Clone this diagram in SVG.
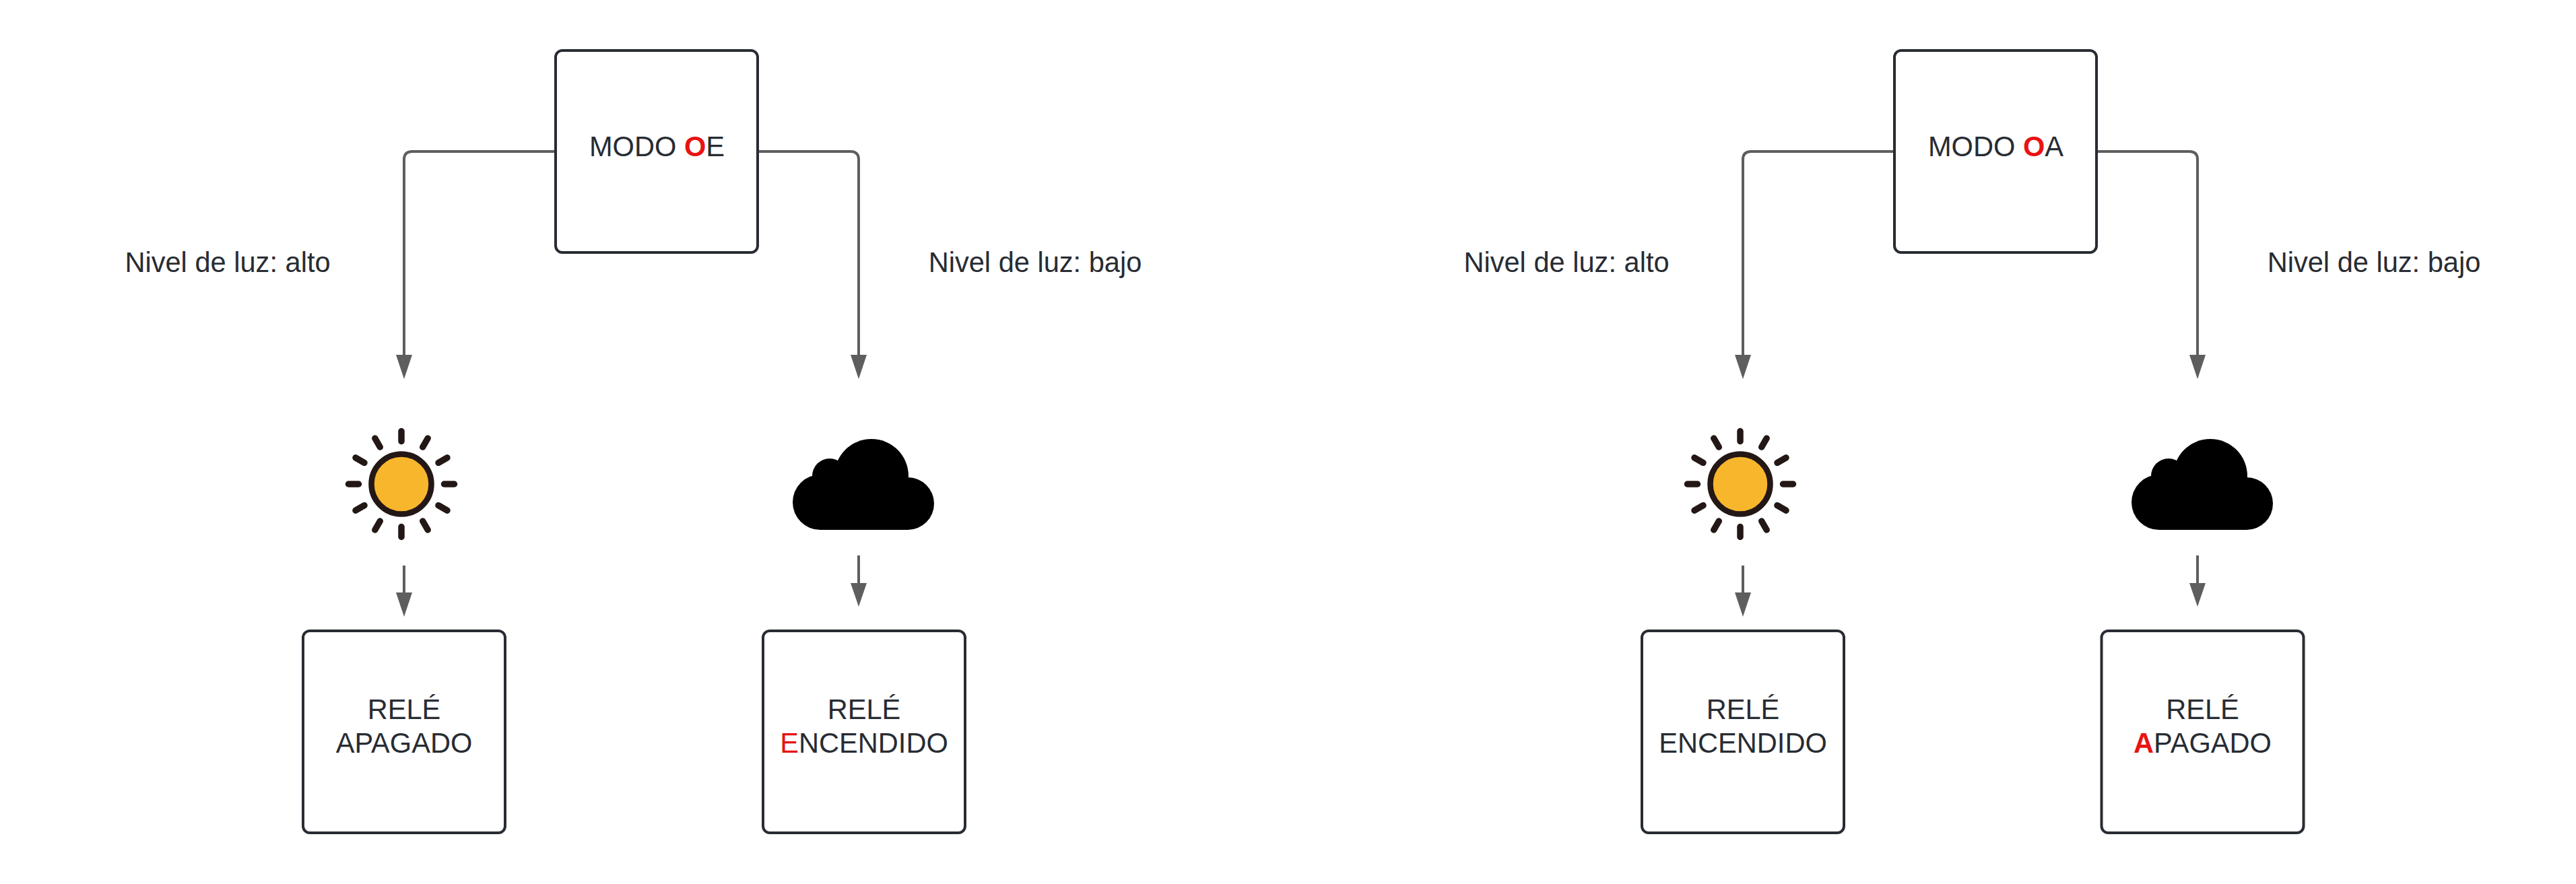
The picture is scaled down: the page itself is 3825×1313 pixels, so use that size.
<svg xmlns="http://www.w3.org/2000/svg" width="3825" height="1313" viewBox="0 0 3825 1313">
<style>
.box{fill:#fff;stroke:#282c33;stroke-width:4}
.t{font-family:"Liberation Sans",Arial,sans-serif;font-size:41.6px;fill:#282c33;text-anchor:middle}
.r{fill:#e81313}
.b{font-weight:bold}
.c{fill:none;stroke:#5e5e5e;stroke-width:4}
.ray{stroke:#231815;stroke-width:9.5;stroke-linecap:round}
</style>
<defs>
<g id="sun">
<circle cx="0" cy="0" r="44.5" fill="#f8b62d" stroke="#231815" stroke-width="8.5"/>
<g class="ray">
<path d="M0 -63.5V-78.5"/><path d="M0 63.5V78.5"/><path d="M63.5 0H78.5"/><path d="M-63.5 0H-78.5"/>
<path d="M31.7 -55L39.2 -68"/><path d="M-31.7 -55L-39.2 -68"/><path d="M31.7 55L39.2 68"/><path d="M-31.7 55L-39.2 68"/>
<path d="M55 -31.7L68 -39.2"/><path d="M-55 -31.7L-68 -39.2"/><path d="M55 31.7L68 39.2"/><path d="M-55 31.7L-68 39.2"/>
</g>
</g>
<g id="cloud" fill="#000">
<circle cx="1218" cy="746" r="41"/><circle cx="1348" cy="748" r="39"/><circle cx="1294" cy="707" r="55"/><circle cx="1232" cy="707" r="26"/>
<rect x="1218" y="705" width="130" height="82"/>
</g>
</defs>
<rect width="3825" height="1313" fill="#fff"/>
<g id="connectors">
<g id="connectors-left">
<path class="c" d="M825 225H612Q600 225 600 237V528"/>
<path class="c" d="M1125 225H1263Q1275 225 1275 237V528"/>
<path class="c" d="M600 840V880"/>
<path class="c" d="M1275 825V866"/>
<path d="M588 527H612L600 563Z M1263 527H1287L1275 563Z M588 880H612L600 916Z M1263 866H1287L1275 901Z" fill="#5e5e5e"/>
</g>
<g id="connectors-right" transform="translate(1988 0)">
<path class="c" d="M825 225H612Q600 225 600 237V528"/>
<path class="c" d="M1125 225H1263Q1275 225 1275 237V528"/>
<path class="c" d="M600 840V880"/>
<path class="c" d="M1275 825V866"/>
<path d="M588 527H612L600 563Z M1263 527H1287L1275 563Z M588 880H612L600 916Z M1263 866H1287L1275 901Z" fill="#5e5e5e"/>
</g>
</g>
<g id="modo-oe"><rect class="box" x="825" y="75" width="300" height="300" rx="10"/><text class="t" x="975.5" y="232">MODO <tspan class="r b">O</tspan>E</text></g>
<g id="label-alto-1"><text class="t" x="338" y="404">Nivel de luz: alto</text></g>
<g id="label-bajo-1"><text class="t" x="1537" y="404">Nivel de luz: bajo</text></g>
<g id="sun-1"><use href="#sun" x="596" y="719"/></g>
<g id="cloud-1"><use href="#cloud"/></g>
<g id="rele-apagado-1"><rect class="box" x="450" y="937" width="300" height="300" rx="10"/><text class="t" x="600" y="1068">RELÉ</text><text class="t" x="600" y="1118">APAGADO</text></g>
<g id="rele-encendido-1"><rect class="box" x="1133" y="937" width="300" height="300" rx="10"/><text class="t" x="1283" y="1068">RELÉ</text><text class="t" x="1283" y="1118"><tspan class="r">E</tspan>NCENDIDO</text></g>
<g id="modo-oa"><rect class="box" x="2813" y="75" width="300" height="300" rx="10"/><text class="t" x="2963.5" y="232">MODO <tspan class="r b">O</tspan>A</text></g>
<g id="label-alto-2"><text class="t" x="2326" y="404">Nivel de luz: alto</text></g>
<g id="label-bajo-2"><text class="t" x="3525" y="404">Nivel de luz: bajo</text></g>
<g id="sun-2"><use href="#sun" x="2584" y="719"/></g>
<g id="cloud-2"><use href="#cloud" x="1988"/></g>
<g id="rele-encendido-2"><rect class="box" x="2438" y="937" width="300" height="300" rx="10"/><text class="t" x="2588" y="1068">RELÉ</text><text class="t" x="2588" y="1118">ENCENDIDO</text></g>
<g id="rele-apagado-2"><rect class="box" x="3120.5" y="937" width="300" height="300" rx="10"/><text class="t" x="3270.5" y="1068">RELÉ</text><text class="t" x="3270.5" y="1118"><tspan class="r b">A</tspan>PAGADO</text></g>
</svg>
